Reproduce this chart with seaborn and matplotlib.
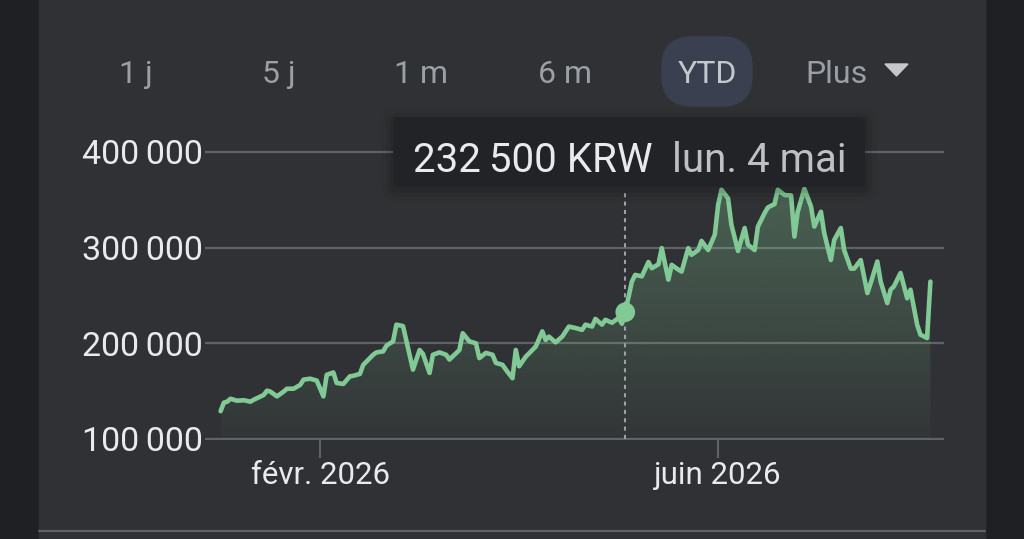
import numpy as np
import pandas as pd
import matplotlib
matplotlib.use("Agg")
import matplotlib.pyplot as plt
import matplotlib.dates as mdates
from matplotlib.colors import to_rgb
from matplotlib.patches import FancyBboxPatch, PathPatch, Polygon, Rectangle
import seaborn as sns

# YTD closing prices (KRW)
days_since_jan1 = [1, 2, 3, 4, 6, 8, 10, 11, 14, 15, 16, 18, 20, 21, 23, 25, 26, 28, 30, 32,
                   33, 35, 36, 38, 40, 41, 43, 44, 45, 47, 48, 50, 51, 53, 54, 56, 59, 61, 62, 64,
                   65, 67, 69, 70, 73, 74, 76, 78, 79, 81, 83, 84, 86, 87, 89, 90, 91, 93, 95, 96,
                   98, 99, 100, 102, 104, 106, 108, 110, 111, 113, 114, 116, 117, 119, 121, 122, 123, 125, 126, 128,
                   130, 131, 133, 134, 136, 137, 139, 140, 142, 143, 145, 146, 148, 150, 151, 152, 154, 155, 157, 159,
                   160, 162, 163, 165, 166, 168, 169, 171, 173, 174, 175, 177, 179, 180, 182, 183, 185, 186, 188, 189,
                   191, 192, 194, 196, 197, 199, 200, 202, 203, 204, 206, 208, 209, 211, 212, 214, 215]
prices = [129000, 138000, 139000, 142000, 140000, 140500, 139000, 141000, 146000, 150500,
          149500, 144500, 149500, 152500, 152500, 156500, 162000, 163000, 161000, 144500,
          167000, 169500, 158500, 157500, 165500, 166000, 168000, 177500, 181000, 188000,
          190500, 191500, 197500, 202000, 219500, 218000, 172500, 193000, 189000, 169000,
          188000, 190500, 188000, 183000, 193000, 210500, 202000, 200000, 184500, 190000,
          188000, 179500, 177500, 172500, 163500, 193000, 176000, 186000, 193000, 196500,
          212500, 203500, 207000, 201000, 207000, 217500, 216000, 214000, 219500, 217500,
          225500, 219500, 224500, 221500, 226500, 220500, 232500, 264500, 271500, 270000,
          285000, 278500, 282500, 299500, 266500, 282000, 277000, 275000, 299500, 292500,
          297500, 307000, 297500, 313500, 344500, 360500, 351500, 324000, 296500, 320500,
          303000, 297500, 322000, 336000, 342000, 345500, 360500, 355000, 354500, 311500,
          337500, 361500, 343000, 322000, 337500, 315000, 287000, 308000, 320500, 297500,
          278000, 278000, 287000, 252500, 263000, 285500, 264500, 242000, 256000, 259500,
          273500, 247000, 256000, 219500, 209000, 205500, 264500]

periods = ["1 j", "5 j", "1 m", "6 m", "YTD", "Plus"]
y_ticks = [100000, 200000, 300000, 400000]
x_ticks = ["2026-02-01", "2026-06-01"]
x_tick_labels = ["févr. 2026", "juin 2026"]
hover_date = "2026-05-04"
hover_date_label = "lun. 4 mai"

start = pd.Timestamp("2026-01-01")
df = pd.DataFrame({"date": start + pd.to_timedelta(days_since_jan1, unit="D"),
                   "price": prices})

sns.set_theme(style="dark")
plt.rcParams["font.family"] = ["Roboto", "DejaVu Sans"]

GREEN = "#81c995"
PANEL = "#303134"
SIDE = "#1f2023"
GRID = "#5f6368"
WHITE = "#e8eaed"
GREY = "#9aa0a6"


def fmt(v):
    return f"{v:,}".replace(",", "\u202f")


fig = plt.figure(figsize=(10.24, 5.39), dpi=100, facecolor=SIDE)

# background panel + range buttons (pixel coordinates)
bg = fig.add_axes([0, 0, 1, 1], zorder=0)
bg.set_xlim(0, 1024)
bg.set_ylim(539, 0)
bg.axis("off")
bg.add_patch(Rectangle((39, 0), 946, 539, color=PANEL, zorder=0))
bg.plot([39, 985], [531, 531], color=GRID, lw=1.5)
bg.add_patch(FancyBboxPatch((662, 37), 90, 69, boxstyle="round,pad=0,rounding_size=30",
                            color="#3a4050", zorder=1))
btn_x = [136, 279, 421, 565, 707, 836]
for lab, bx in zip(periods, btn_x):
    col = "#c4c7cc" if lab == "YTD" else GREY
    bg.text(bx, 83, lab, ha="center", va="baseline", fontsize=23, color=col, zorder=2)
bg.add_patch(Polygon([(885, 64), (908, 64), (896.5, 76)], closed=True, color="#c4c7cc", zorder=2))

# chart
ax = fig.add_axes([205 / 1024, 98.6 / 539, 739 / 1024, 320.4 / 539], zorder=2)
ax.patch.set_alpha(0)

sns.lineplot(data=df, x="date", y="price", color=GREEN, lw=3.3, estimator=None,
             ax=ax, zorder=4, solid_joinstyle="round")

# gradient fill under the line
poly = ax.fill_between(df["date"], df["price"], 100000, facecolor="none", edgecolor="none")
clip = PathPatch(poly.get_paths()[0], transform=ax.transData, facecolor="none", edgecolor="none")
ax.add_patch(clip)
xnum = mdates.date2num(df["date"])
rgba = np.zeros((256, 1, 4))
rgba[..., :3] = to_rgb(GREEN)
rgba[:, 0, 3] = np.linspace(0.03, 0.32, 256)
im = ax.imshow(rgba, extent=[xnum.min(), xnum.max(), 100000, 362000], origin="lower",
               aspect="auto", zorder=1)
im.set_clip_path(clip)

hover = df[df["date"] == pd.Timestamp(hover_date)]
ax.vlines(hover["date"], 100000, 360000, colors=GREY, linestyles=(0, (2, 2)), lw=1.5, zorder=3)
sns.scatterplot(data=hover, x="date", y="price", color=GREEN, s=200, edgecolor="none",
                ax=ax, zorder=5, legend=False)

ax.set_xlim(start - pd.Timedelta(days=3.7), start + pd.Timedelta(days=219.1))
ax.set_ylim(98500, 433400)
ax.set_yticks(y_ticks)
ax.set_yticklabels([fmt(v) for v in y_ticks])
ax.set_xticks(pd.to_datetime(x_ticks))
ax.set_xticklabels(x_tick_labels)
ax.grid(axis="y", color=GRID, lw=1.6)
ax.grid(axis="x", visible=False)
ax.tick_params(axis="y", left=False, length=0, pad=1.5, labelsize=24.5, labelcolor=WHITE)
ax.tick_params(axis="x", bottom=True, length=12.7, width=1.5, color=GRID, direction="out",
               pad=2, labelsize=22.5, labelcolor=WHITE)
for s in ax.spines.values():
    s.set_visible(False)
ax.set_xlabel("")
ax.set_ylabel("")

# hover tooltip
fg = fig.add_axes([0, 0, 1, 1], zorder=10)
fg.set_xlim(0, 1024)
fg.set_ylim(539, 0)
fg.axis("off")
for grow, a in [(12, 0.04), (7, 0.06), (3, 0.09)]:
    fg.add_patch(FancyBboxPatch((393 - grow, 117 - grow + 3), 472 + 2 * grow, 70 + 2 * grow,
                                boxstyle=f"round,pad=0,rounding_size={6 + grow}",
                                color="black", alpha=a, lw=0))
fg.add_patch(FancyBboxPatch((393, 117), 472, 70, boxstyle="round,pad=0,rounding_size=6",
                            color="#222326", lw=0))
fg.text(413, 172, fmt(int(hover["price"].iloc[0])) + " KRW", fontsize=29, color=WHITE,
        va="baseline")
fg.text(672, 172, hover_date_label, fontsize=29, color="#bdc1c6", va="baseline")

fig.savefig("out.png", dpi=100, facecolor=SIDE)
